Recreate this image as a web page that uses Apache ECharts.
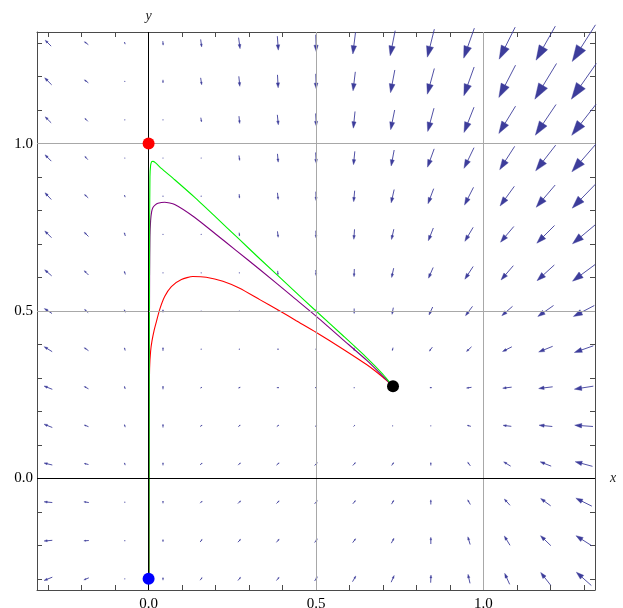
<!DOCTYPE html>
<html>
<head>
<meta charset="utf-8">
<script src="https://cdn.jsdelivr.net/npm/echarts@6/dist/echarts.min.js"></script>
<style>
html,body{margin:0;padding:0;background:#fff;}
#chart{width:623px;height:608px;}
</style>
</head>
<body>
<div id="chart"></div>
<script>
// ---------- data ----------
const X_RANGE = [-1/3, 4/3];
const Y_RANGE = [-1/3, 4/3];
const MAJOR_TICKS = [0, 0.5, 1.0];
const MINOR_TICKS = [-0.3, -0.2, -0.1, 0.1, 0.2, 0.3, 0.4, 0.6, 0.7, 0.8, 0.9, 1.1, 1.2, 1.3];
const TICK_LABELS = ['0.0', '0.5', '1.0'];
const GRID_VALUES = [0.5, 1.0];

// vector field sample points
const X_POS = [-0.3, -0.186, -0.071, 0.043, 0.157, 0.271, 0.386, 0.5, 0.614, 0.729, 0.843, 0.957, 1.071, 1.186, 1.3];
const Y_POS = [1.3, 1.186, 1.071, 0.957, 0.843, 0.729, 0.614, 0.5, 0.386, 0.271, 0.157, 0.043, -0.071, -0.186, -0.3];

// horizontal components (rows follow Y_POS, columns follow X_POS)
const FIELD_U = [
  [-6, -4, -0.7, 0.3, 1, 1.5, 1, 0.5, -2.7, -5, -7, -10.7, -16, -19.3, -23.3],
  [-7, -4, 0, 0, 1, 1, 0.7, 0.5, -2.3, -4.3, -7, -10.3, -16.7, -21.7, -25],
  [-6, -3, 0, 0, 0.7, 0.7, 1, 0.7, -1.7, -4, -6.3, -10, -16.7, -20.7, -24.3],
  [-6.3, -3, 0, 0, 0, 0.7, 0.7, 0.7, -1.3, -3, -6.7, -10, -15, -20, -24],
  [-6.3, -3.7, -0.7, 0, 0, 0.3, 0.7, 0.3, -1, -3, -5.7, -9, -14.3, -19, -23.3],
  [-6.7, -4.3, -1, 0, 0, 0.3, 0.7, 0.3, -0.7, -2.3, -5, -8.3, -13.3, -17.7, -22.7],
  [-7, -4.3, -1, 0, 0, 0, 0.3, 0.3, -0.3, -2, -4.7, -8.3, -12.3, -17.3, -22.7],
  [-7.7, -3.7, -1, 0, 0.3, 0.3, 0.3, 0, 0, -1.3, -3.7, -7, -10.7, -15.7, -21],
  [-8, -4.3, -0.7, 0, 0.7, 1, 1.3, 1, 0, -0.7, -3, -5, -9.3, -14, -19],
  [-8.3, -4.3, -0.7, 0, 1.5, 2, 2, 2, 0.5, 0, -2, -5, -9, -14, -19],
  [-8.3, -4.3, -0.7, 0, 2, 2, 2, 1.7, 1.3, 0.3, -0.3, -3.7, -8.3, -13.3, -18.3],
  [-8.3, -4.3, -0.7, 0, 2, 2.3, 2.7, 2.7, 2.7, 2, 0, -2.7, -7, -11, -17.3],
  [-8.3, -5, 0, 0, 2, 2.7, 2.7, 2.7, 2.7, 2.3, 0, -2.7, -5.7, -10, -16],
  [-8.3, -5, 0, 0, 2, 2.7, 2.7, 2.7, 3, 2.7, 0, -2.3, -5.7, -10.3, -15.7],
  [-8.3, -5, 0, 0, 2, 2.7, 2.7, 2.7, 3.3, 3, 0.3, -2, -5, -10, -15]
];
// vertical components (up positive)
const FIELD_V = [
  [6, 3, 2, -4, -7.5, -11, -14, -17, -21.7, -25, -28, -30, -32, -34, -36.7],
  [7, 3, 0.5, -3, -7, -10, -13, -15, -19, -22.7, -25.7, -28.7, -32.3, -35.7, -35.7],
  [6, 3, 0.5, -0.5, -4.3, -7.3, -10, -12.7, -16.7, -19.7, -23.3, -25.3, -27.3, -30.7, -31],
  [6.3, 3.3, 0.3, 0.3, -0.7, -5, -8.3, -11, -13.3, -16, -18.3, -20.7, -23.3, -25.7, -27.7],
  [6.7, 3.3, 2, 0.3, 0.5, -4, -6.7, -9, -11, -13.3, -15, -17.7, -19.7, -22.3, -24],
  [6.7, 4.3, 3.3, 0.3, -0.3, -3.3, -6, -7.3, -10, -10.3, -12.7, -14, -15.7, -17.7, -19],
  [6, 4.3, 3.3, 0.3, 0.3, -0.5, -4, -5.7, -7.7, -9.3, -10.7, -12.7, -14.3, -15.7, -16.7],
  [5, 3.3, 2.7, 2.7, 0.3, 0.3, -0.3, -3, -5, -6.7, -8, -9.3, -9.3, -11, -11],
  [5, 3, 2.7, 3.3, 0.3, 0.3, 0, -0.3, -3, -3, -4, -4.7, -4.7, -5.7, -6.7],
  [3.3, 2.3, 2.7, 3.3, 0.7, 0.7, 0, 0, 0, 0, 0, -0.7, -1, -1.7, -3],
  [3.3, 1.7, 2.7, 3.3, 1.3, 1.7, 1.3, 1.3, 1.3, 0.3, 0.3, 1, 1, 1.3, 1.3],
  [2, 1, 2.3, 2.7, 2, 2.3, 2.3, 3, 3, 3, 3, 3.7, 4.3, 4.3, 4.7],
  [0.7, 0.7, 0.3, 2.3, 2, 2.7, 2.7, 3.3, 3.3, 4, 4.7, 4.7, 6.3, 7.3, 8],
  [-0.7, -0.3, 0.3, 2.3, 2.7, 3, 3.3, 3.7, 4, 5, 6.7, 7.7, 9.3, 10, 10],
  [-3.3, -2, 0.3, 2.7, 2.7, 3.3, 3.3, 4.3, 5.7, 6.7, 7.7, 9, 11, 12.7, 13.3]
];

// trajectories
const GREEN_CURVE = [[0.001,-0.3],[0.002,0.3],[0.003,0.75],[0.004,0.9],[0.006,0.935],[0.009,0.946],[0.013,0.947],[0.02,0.943],[0.038,0.926],[0.078,0.892],[0.137,0.84],[0.2,0.781],[0.272,0.713],[0.332,0.656],[0.431,0.564],[0.5,0.5],[0.581,0.426],[0.651,0.361],[0.7,0.311],[0.73,0.275]];
const PURPLE_CURVE = [[0.001,-0.3],[0.002,0.3],[0.003,0.6],[0.004,0.72],[0.006,0.77],[0.009,0.796],[0.013,0.809],[0.02,0.817],[0.028,0.822],[0.048,0.825],[0.078,0.818],[0.137,0.78],[0.2,0.73],[0.26,0.682],[0.332,0.624],[0.431,0.542],[0.501,0.484],[0.581,0.414],[0.651,0.353],[0.7,0.305],[0.73,0.275]];
const RED_CURVE = [[0.001,-0.3],[0.001,0.1],[0.002,0.25],[0.003,0.33],[0.006,0.38],[0.01,0.41],[0.016,0.44],[0.023,0.467],[0.033,0.504],[0.048,0.543],[0.068,0.573],[0.098,0.594],[0.132,0.603],[0.172,0.601],[0.222,0.589],[0.272,0.568],[0.332,0.534],[0.392,0.5],[0.441,0.471],[0.501,0.436],[0.581,0.386],[0.651,0.34],[0.7,0.302],[0.73,0.275]];

// marked points
const RED_POINT = [0, 1];
const BLUE_POINT = [0, -0.3];
const BLACK_POINT = [0.73, 0.275];

// ---------- styling ----------
const ARROW_SCALE = 1 / 335;   // field units -> axis units
const ARROW_COLOR = '#3d3d9b';
const FRAME_COLOR = '#4a4a4a';
const SERIF = 'Liberation Serif';

const fieldData = [];
Y_POS.forEach((y, r) => {
  X_POS.forEach((x, c) => {
    fieldData.push([x, y, FIELD_U[r][c], FIELD_V[r][c]]);
  });
});

function renderArrow(params, api) {
  const x = api.value(0), y = api.value(1);
  const u = api.value(2) * ARROW_SCALE, v = api.value(3) * ARROW_SCALE;
  const p0 = api.coord([x - u / 2, y - v / 2]);
  const p1 = api.coord([x + u / 2, y + v / 2]);
  const dx = p1[0] - p0[0], dy = p1[1] - p0[1];
  const L = Math.sqrt(dx * dx + dy * dy);
  if (L < 1.2) {
    return { type: 'circle', shape: { cx: (p0[0] + p1[0]) / 2, cy: (p0[1] + p1[1]) / 2, r: 0.55 },
             style: { fill: ARROW_COLOR } };
  }
  const ux = dx / L, uy = dy / L;
  const hl = L * 0.38, hw = L * 0.125;
  const bx = p1[0] - ux * hl, by = p1[1] - uy * hl;
  return {
    type: 'group',
    children: [
      { type: 'line', shape: { x1: p0[0], y1: p0[1], x2: bx + ux * 0.5, y2: by + uy * 0.5 },
        style: { stroke: ARROW_COLOR, lineWidth: 0.9 } },
      { type: 'polygon', shape: { points: [[p1[0], p1[1]], [bx - uy * hw, by + ux * hw], [bx + uy * hw, by - ux * hw]] },
        style: { fill: ARROW_COLOR, stroke: ARROW_COLOR, lineWidth: 0.4 } }
    ]
  };
}

function makeAxis(dim, position, ticks, len, withLabels, showLine) {
  return {
    type: 'value',
    position: position,
    min: dim === 'x' ? X_RANGE[0] : Y_RANGE[0],
    max: dim === 'x' ? X_RANGE[1] : Y_RANGE[1],
    axisLine: { show: showLine, onZero: false, lineStyle: { color: FRAME_COLOR, width: 1 } },
    axisTick: { show: true, inside: true, length: len, customValues: ticks,
                lineStyle: { color: FRAME_COLOR, width: 1 } },
    axisLabel: withLabels ? {
      show: true, customValues: MAJOR_TICKS,
      formatter: function (val) {
        const i = MAJOR_TICKS.findIndex(t => Math.abs(t - val) < 1e-9);
        return i >= 0 ? TICK_LABELS[i] : '';
      },
      color: '#000', fontFamily: SERIF, fontSize: 15, margin: dim === 'x' ? 7 : 4
    } : { show: false },
    splitLine: { show: false },
    minorTick: { show: false }
  };
}

const chart = echarts.init(document.getElementById('chart'), null, { renderer: 'canvas' });

const option = {
  animation: false,
  backgroundColor: '#ffffff',
  grid: { left: 37, top: 32, width: 558, height: 558, containLabel: false, outerBoundsMode: 'none' },
  xAxis: [
    makeAxis('x', 'bottom', MINOR_TICKS, 5, true, true),
    makeAxis('x', 'bottom', MAJOR_TICKS, 7, false, false),
    makeAxis('x', 'top', MINOR_TICKS, 5, false, true),
    makeAxis('x', 'top', MAJOR_TICKS, 7, false, false)
  ],
  yAxis: [
    makeAxis('y', 'left', MINOR_TICKS, 5, true, true),
    makeAxis('y', 'left', MAJOR_TICKS, 7, false, false),
    makeAxis('y', 'right', MINOR_TICKS, 5, false, true),
    makeAxis('y', 'right', MAJOR_TICKS, 7, false, false)
  ],
  series: [
    {
      name: 'grid', type: 'line', data: [], z: 1,
      markLine: {
        silent: true, symbol: 'none', animation: false,
        lineStyle: { color: '#a8a8a8', type: 'solid', width: 1 },
        label: { show: false },
        data: GRID_VALUES.map(v => ({ xAxis: v })).concat(GRID_VALUES.map(v => ({ yAxis: v })))
      }
    },
    {
      name: 'field', type: 'custom', z: 2, clip: false,
      renderItem: renderArrow,
      dimensions: ['x', 'y', 'u', 'v'],
      encode: { x: 0, y: 1 },
      data: fieldData,
      silent: true
    },
    {
      name: 'axes', type: 'line', data: [], z: 3,
      markLine: {
        silent: true, symbol: 'none', animation: false,
        lineStyle: { color: '#000', type: 'solid', width: 1 },
        data: [
          { xAxis: 0, label: { show: true, position: 'end', formatter: 'y', distance: 9,
              fontFamily: SERIF, fontStyle: 'italic', fontSize: 14, color: '#222' } },
          { yAxis: 0, label: { show: true, position: 'end', formatter: 'x', distance: 15,
              fontFamily: SERIF, fontStyle: 'italic', fontSize: 14, color: '#222' } }
        ]
      }
    },
    {
      name: 'red', type: 'line', z: 4, data: RED_CURVE, showSymbol: false, smooth: 0.2,
      lineStyle: { color: '#ff0000', width: 1.1 }, silent: true
    },
    {
      name: 'purple', type: 'line', z: 4, data: PURPLE_CURVE, showSymbol: false, smooth: 0.2,
      lineStyle: { color: '#800080', width: 1.1 }, silent: true
    },
    {
      name: 'green', type: 'line', z: 4, data: GREEN_CURVE, showSymbol: false, smooth: 0.2,
      lineStyle: { color: '#00f000', width: 1.1 }, silent: true
    },
    {
      name: 'points', type: 'scatter', z: 6, symbolSize: 12, silent: true,
      data: [
        { value: RED_POINT, itemStyle: { color: '#ff0000', opacity: 1 } },
        { value: BLUE_POINT, itemStyle: { color: '#0000ff', opacity: 1 } },
        { value: BLACK_POINT, itemStyle: { color: '#000000', opacity: 1 } }
      ]
    }
  ]
};
chart.setOption(option);
</script>
</body>
</html>
